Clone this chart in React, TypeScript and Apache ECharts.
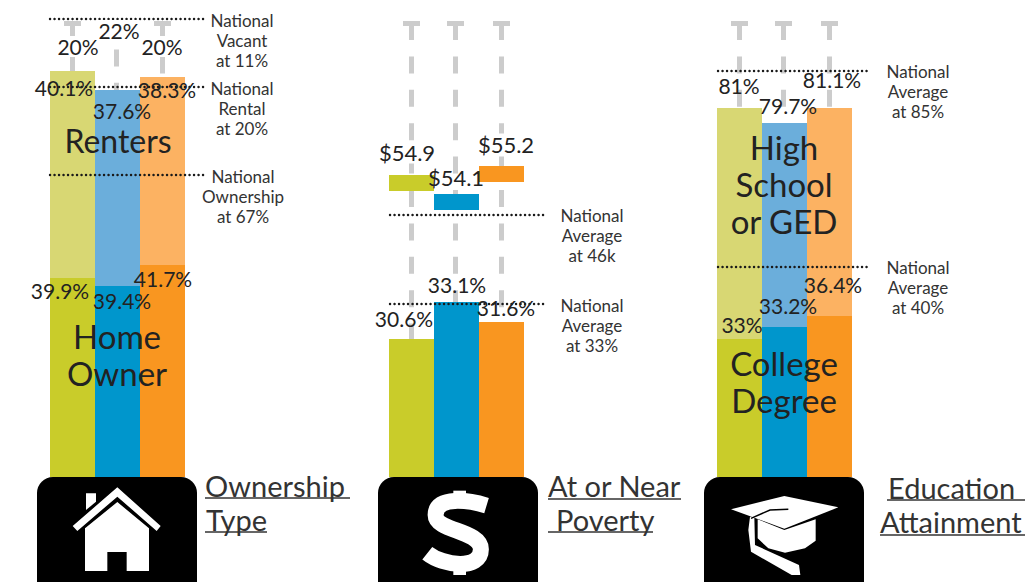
import React, { useEffect, useRef } from "react";
import * as echarts from "echarts";

// Three unnamed groups per panel (olive, blue, orange)
const groups = ["Group 1", "Group 2", "Group 3"];
// Bar heights as drawn in the picture (they are not to scale with the printed labels)
const homeOwner = [39.8, 38.2, 42.4];
const renters = [41.4, 39.2, 37.6];
const poverty = [27.6, 35, 31];
const incomeGap = [29.6, 18.4, 28];
const income = [3.2, 3.2, 3.2];
const college = [27.6, 30, 32.2];
const highSchool = [46.2, 40.8, 41.6];
const whiskerTop = [90.8, 90.8, 90.8];
// Printed labels
const ownerLabels = ["39.9%", "39.4%", "41.7%"];
const renterLabels = ["40.1%", "37.6%", "38.3%"];
const vacantLabels = ["20%", "22%", "20%"];
const povertyLabels = ["30.6%", "33.1%", "31.6%"];
const incomeLabels = ["$54.9", "$54.1", "$55.2"];
const collegeLabels = ["33%", "33.2%", "36.4%"];
const highSchoolLabels = ["81%", "79.7%", "81.1%"];

const DARK = ["#C9CC2A", "#0096CC", "#F99620"];
const LIGHT = ["#D8D773", "#6BAEDB", "#FCB262"];
const FONT = "Lato";
const INK = "#222222";
const SOFT = "#333333";

echarts.graphic.registerShape(
  "dollarS",
  echarts.graphic.extendPath(
    "M350 197 C300 182 197 165 197 225 C197 275 333 270 333 328 C333 392 220 378 172 340",
    {}
  )
);

const text = (t: string, x: number, y: number, fontSize: number, extra: any = {}) => ({
  type: "text",
  x,
  y: y - (fontSize >= 28 ? 2 : fontSize >= 20 ? 1.5 : 0.5),
  z: 50,
  silent: true,
  style: {
    text: t,
    x: 0,
    y: 0,
    fontSize,
    fontFamily: FONT,
    fill: extra.fill || INK,
    align: extra.align || "center",
    verticalAlign: "middle",
    ...(extra.lineHeight ? { lineHeight: extra.lineHeight } : {}),
    ...(extra.bg ? { backgroundColor: "#ffffff" } : {}),
  },
});

const dotted = (x1: number, x2: number, y: number) => ({
  type: "line",
  z: 40,
  silent: true,
  shape: { x1, y1: y, x2, y2: y },
  style: { stroke: "#1a1a1a", lineWidth: 2.4, lineCap: "round", lineDash: [0.1, 4.4] },
});

const note = (lines: string[], x: number, y: number) =>
  lines.map((l, i) => text(l, x, y + i * 20, 17, { fill: SOFT }));

const heading = (t: string, x: number, y: number, ux1: number, ux2: number, uy: number) => [
  text(t, x, y, 29, { fill: SOFT, align: "left" }),
  {
    type: "line",
    z: 50,
    silent: true,
    shape: { x1: ux1, y1: uy, x2: ux2, y2: uy },
    style: { stroke: SOFT, lineWidth: 1.6 },
  },
];

const badge = (x: number) => ({
  type: "rect",
  z: 30,
  silent: true,
  shape: { x, y: 477, width: 160, height: 125, r: 16 },
  style: { fill: "#000000" },
});

const poly = (pts: number[][], ox: number, oy: number, fill = "#ffffff") => ({
  type: "polygon",
  z: 35,
  silent: true,
  shape: { points: pts.map(([a, b]) => [ox + a / 3, oy + b / 3]) },
  style: { fill },
});

const whiskers = (phase: number[] = [0, 0, 0]) => ({
  type: "custom",
  z: 1,
  silent: true,
  renderItem: (_: any, api: any) => {
    const i = api.value(0);
    const top = api.coord([i, api.value(1)]);
    const base = api.coord([i, 0]);
    const x = top[0] + (i === 1 ? -1 : 0);
    return {
      type: "group",
      children: [
        {
          type: "line",
          shape: { x1: x, y1: top[1], x2: x, y2: base[1] },
          style: {
            stroke: "#CCCCCC",
            lineWidth: 5,
            lineDash: [17, 16.4],
            lineDashOffset: phase[i],
            fill: null,
          },
        },
        {
          type: "rect",
          shape: { x: x - 8.5, y: top[1] - 2, width: 17, height: 5 },
          style: { fill: "#CCCCCC" },
        },
      ],
    };
  },
  data: groups.map((_, i) => [i, whiskerTop[i]]),
});

const bars = (name: string, values: number[], colors: (string | null)[], stack: string) => ({
  type: "bar",
  name,
  stack,
  barWidth: "100%",
  z: 2,
  silent: true,
  data: values.map((v, i) => ({
    value: v,
    itemStyle: colors[i] ? { color: colors[i] } : { color: "rgba(0,0,0,0)" },
  })),
});

const panel = (index: number, list: any[]) =>
  list.map((s) => ({ ...s, xAxisIndex: index, yAxisIndex: index }));

export default function App() {
  const ref = useRef<HTMLDivElement>(null);
  useEffect(() => {
    document.body.style.margin = "0";
    const chart = echarts.init(ref.current!, null, { renderer: "svg" });
    const lefts = [50, 389, 717];
    const none = [null, null, null];
    chart.setOption({
      animation: false,
      backgroundColor: "#ffffff",
      grid: lefts.map((left) => ({ left, width: 135, top: 0, height: 477 })),
      xAxis: lefts.map((_, gridIndex) => ({
        type: "category",
        gridIndex,
        data: groups,
        show: false,
      })),
      yAxis: lefts.map((_, gridIndex) => ({
        type: "value",
        gridIndex,
        min: 0,
        max: 95.4,
        show: false,
        splitLine: { show: false },
      })),
      series: [
        ...panel(0, [
          whiskers([0, 7.4, 0]),
          bars("Home Owner", homeOwner, DARK, "a"),
          bars("Renters", renters, LIGHT, "a"),
        ]),
        ...panel(1, [
          whiskers(),
          bars("At or Near Poverty", poverty, DARK, "b"),
          bars("gap", incomeGap, none, "b"),
          bars("Income", income, DARK, "b"),
        ]),
        ...panel(2, [
          whiskers(),
          bars("College Degree", college, DARK, "c"),
          bars("High School or GED", highSchool, LIGHT, "c"),
        ]),
      ],
      graphic: {
        elements: [
          dotted(50, 204, 19),
          dotted(50, 204, 87),
          dotted(50, 204, 175),
          dotted(390, 544, 215),
          dotted(390, 544, 304),
          dotted(718, 871, 71),
          dotted(718, 871, 267),

          text(vacantLabels[0], 78, 48, 21, { bg: true }),
          text(vacantLabels[1], 119, 32, 21, { bg: true }),
          text(vacantLabels[2], 162, 48, 21, { bg: true }),
          text(renterLabels[0], 64, 89, 21),
          text(renterLabels[1], 122, 112, 21),
          text(renterLabels[2], 167, 91, 21),
          text("Renters", 118, 142, 32),
          text(ownerLabels[0], 60, 292, 21),
          text(ownerLabels[1], 122, 302, 21),
          text(ownerLabels[2], 163, 280, 21),
          text("Home\nOwner", 117, 356, 33, { lineHeight: 37 }),
          ...note(["National", "Vacant", "at 11%"], 242, 21),
          ...note(["National", "Rental", "at 20%"], 242, 89),
          ...note(["National", "Ownership", "at 67%"], 243, 177),

          text(incomeLabels[0], 407, 154, 22, { bg: true }),
          text(incomeLabels[1], 456, 179, 22),
          text(incomeLabels[2], 506, 146, 22, { bg: true }),
          text(povertyLabels[0], 404, 320, 21),
          text(povertyLabels[1], 457, 286, 21),
          text(povertyLabels[2], 506, 309, 21),
          ...note(["National", "Average", "at 46k"], 592, 216),
          ...note(["National", "Average", "at 33%"], 592, 306),

          text(highSchoolLabels[0], 739, 87, 21),
          text(highSchoolLabels[1], 788, 107, 21),
          text(highSchoolLabels[2], 832, 81, 21),
          text("High\nSchool\nor GED", 784, 186, 33, { lineHeight: 37 }),
          text(collegeLabels[0], 742, 326, 21),
          text(collegeLabels[1], 788, 307, 21),
          text(collegeLabels[2], 833, 286, 21),
          text("College\nDegree", 784, 383.5, 33, { lineHeight: 37 }),
          ...note(["National", "Average", "at 85%"], 918, 72),
          ...note(["National", "Average", "at 40%"], 918, 268),

          badge(37),
          badge(378),
          badge(704),

          // house
          poly([[168, 280], [198, 280], [198, 305], [168, 330]], 30, 400),
          poly([[262, 262], [392, 378], [380, 393], [262, 290], [142, 393], [128, 378]], 30, 400),
          poly(
            [[262, 306], [357, 385], [357, 513], [290, 513], [290, 456], [232, 456], [232, 513], [165, 513], [165, 385]],
            30,
            400
          ),

          // dollar
          {
            type: "dollarS",
            x: 370,
            y: 440,
            scaleX: 1 / 3,
            scaleY: 1 / 3,
            z: 35,
            silent: true,
            style: { fill: "none", stroke: "#ffffff", lineWidth: 48 },
          },
          poly([[250, 152], [288, 152], [288, 185], [250, 185]], 370, 440),
          poly([[250, 370], [288, 370], [288, 405], [250, 405]], 370, 440),

          // graduation cap
          poly([[268, 138], [430, 172], [268, 236], [108, 178]], 695, 450),
          poly(
            [[188, 208], [268, 240], [362, 208], [362, 272], [330, 295], [270, 308], [220, 295], [188, 265]],
            695,
            450
          ),
          poly(
            [[165, 200], [178, 200], [180, 285], [312, 345], [316, 375], [290, 375], [168, 305], [160, 240]],
            695,
            450
          ),
          {
            type: "polyline",
            z: 36,
            silent: true,
            shape: { points: [[695 + 168 / 3, 450 + 205 / 3], [695 + 225 / 3, 450 + 180 / 3], [695 + 280 / 3, 450 + 178 / 3]] },
            style: { stroke: "#000000", lineWidth: 1.5, fill: "none" },
          },

          ...heading("Ownership", 205, 487, 205, 350, 498),
          ...heading("Type", 206, 521, 205, 267, 532),
          ...heading("At or Near", 548, 487, 548, 681, 499),
          ...heading("Poverty", 556, 521, 548, 653, 532),
          ...heading("Education", 888, 489, 887, 1025, 500),
          ...heading("Attainment", 880, 523, 880, 1025, 535),
        ],
      },
    });
    return () => chart.dispose();
  }, []);
  return <div ref={ref} style={{ width: 1025, height: 582, overflow: "hidden" }} />;
}
